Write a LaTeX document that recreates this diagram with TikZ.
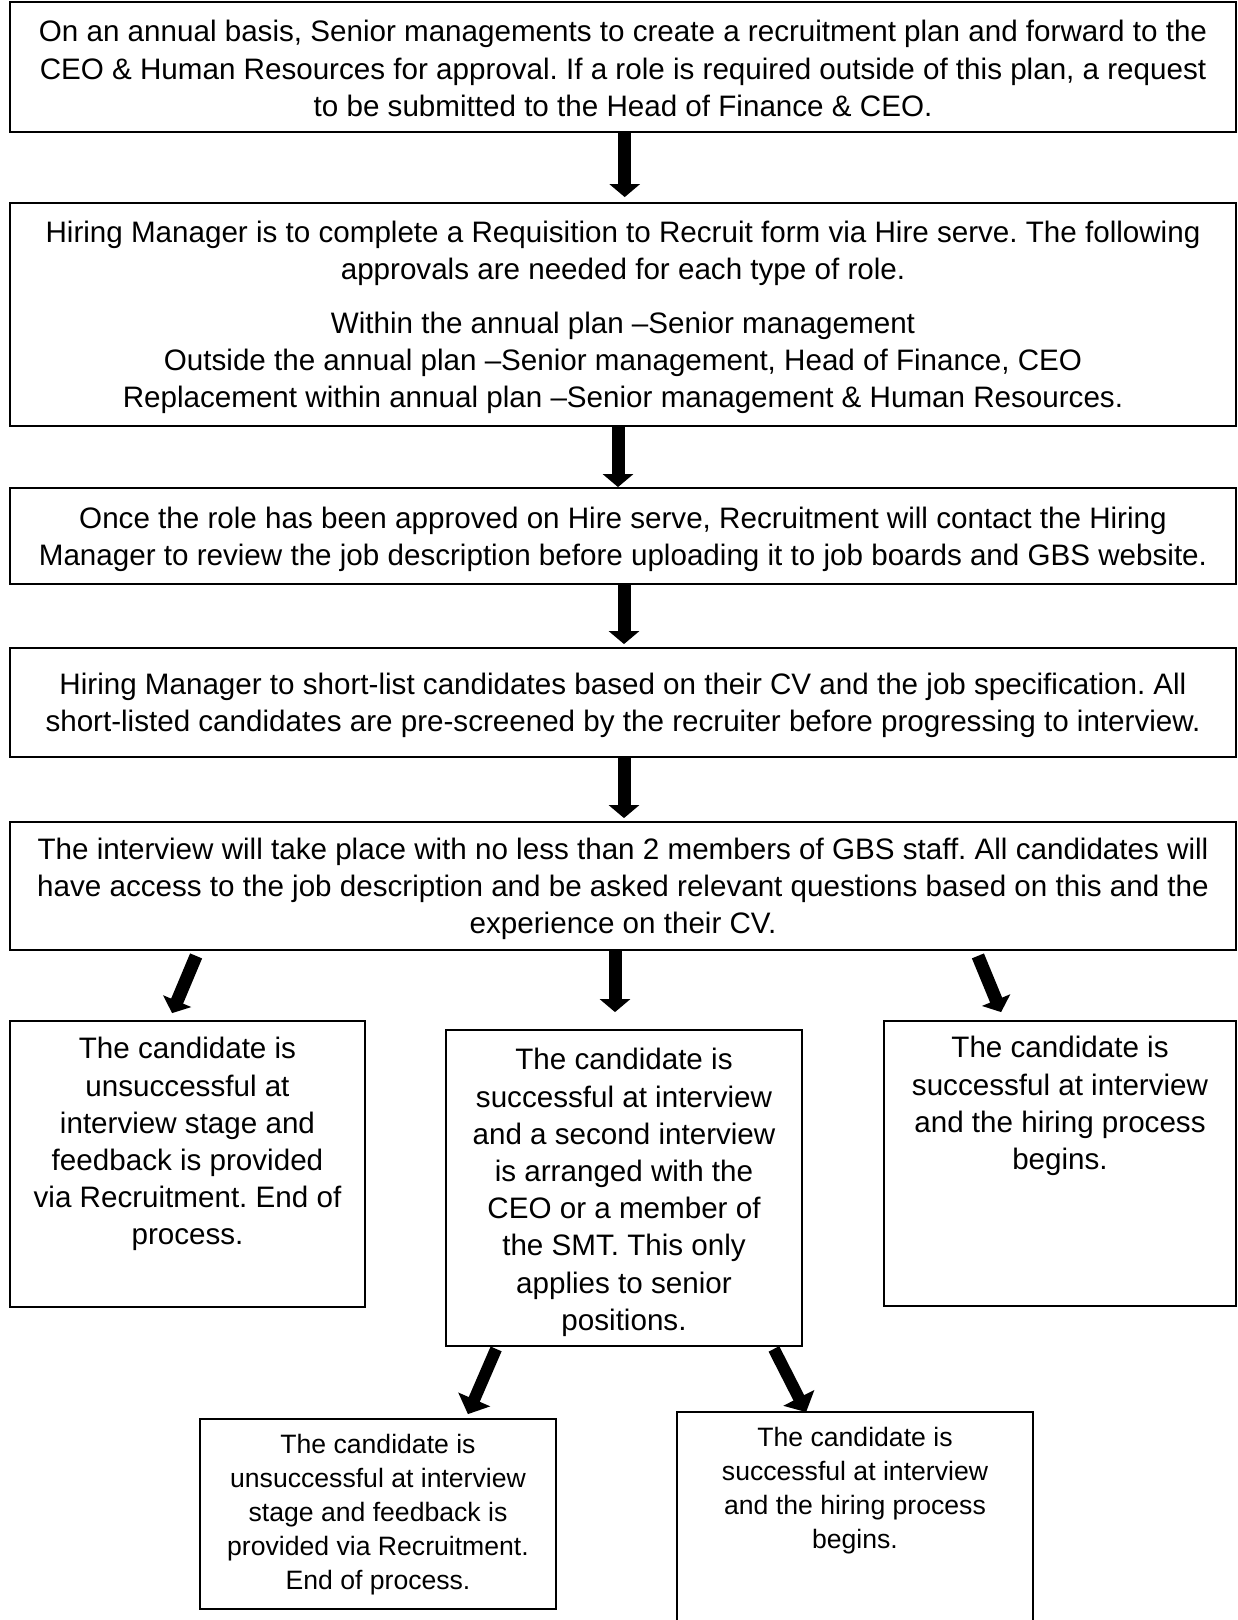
\documentclass[tikz,border=0pt]{standalone}
\usepackage{fontspec}
\setmainfont{Liberation Sans}
\usetikzlibrary{arrows.meta,calc}
\frenchspacing
\begin{document}
\begin{tikzpicture}[x=0.5pt,y=-0.5pt,
  box/.style={draw=black,line width=0.9pt,rectangle,inner sep=0pt},
  maintxt/.style={font=\fontsize{14.8}{18.6}\selectfont,align=center,inner sep=0pt},
  smalltxt/.style={font=\fontsize{13.3}{17}\selectfont,align=center,inner sep=0pt},
  arr/.style={line width=6.5pt,-{Triangle[width=15pt,length=6.5pt]}},
  bigarr/.style={line width=6pt,-{Triangle[width=17pt,length=8pt]}}]
\fill[white] (0,0) rectangle (1237,1620);
\useasboundingbox (0,0) rectangle (1237,1620);

% main column
\node[box,maintxt,text depth=0pt,minimum width=613pt,minimum height=65pt] (b1) at (623,67)
 {\rule{0pt}{1.5pt}\\[-8pt]On an annual basis, Senior managements to create a recruitment plan and forward to the\\
  CEO \& Human Resources for approval. If a role is required outside of this plan, a request\\
  to be submitted to the Head of Finance \& CEO.};
\node[box,maintxt,text depth=0pt,minimum width=613pt,minimum height=111.5pt] (b2) at (623,314.5)
 {Hiring Manager is to complete a Requisition to Recruit form via Hire serve. The following\\
  approvals are needed for each type of role.\\[8.2pt]
  Within the annual plan –Senior management\\
  Outside the annual plan –Senior management, Head of Finance, CEO\\
  Replacement within annual plan –Senior management \& Human Resources.};
\node[box,maintxt,text depth=0pt,minimum width=613pt,minimum height=48pt] (b3) at (623,536)
 {Once the role has been approved on Hire serve, Recruitment will contact the Hiring\\
  Manager to review the job description before uploading it to job boards and GBS website.};
\node[box,maintxt,text depth=0pt,minimum width=613pt,minimum height=54.5pt] (b4) at (623,702.5)
 {Hiring Manager to short-list candidates based on their CV and the job specification. All\\
  short-listed candidates are pre-screened by the recruiter before progressing to interview.};
\node[box,maintxt,text depth=0pt,minimum width=613pt,minimum height=64pt] (b5) at (623,886)
 {The interview will take place with no less than 2 members of GBS staff. All candidates will\\
  have access to the job description and be asked relevant questions based on this and the\\
  experience on their CV.};

% outcome row
\node[box,minimum width=177.5pt,minimum height=143pt] (L) at (187.5,1164) {};
\node[maintxt,anchor=north] (Lt) at ($(L.north)+(0,17)$)
 {The candidate is\\unsuccessful at\\interview stage and\\feedback is provided\\via Recruitment. End of\\process.};
\node[box,minimum width=178pt,minimum height=158pt] (M) at (624,1188) {};
\node[maintxt,anchor=north] (Mt) at ($(M.north)+(0,19)$)
 {The candidate is\\successful at interview\\and a second interview\\is arranged with the\\CEO or a member of\\the SMT. This only\\applies to senior\\positions.};
\node[box,minimum width=176pt,minimum height=142.5pt] (R) at (1060,1163.5) {};
\node[maintxt,anchor=north] (Rt) at ($(R.north)+(0,16)$)
 {The candidate is\\successful at interview\\and the hiring process\\begins.};

% second-interview row
\node[box,minimum width=178pt,minimum height=95pt] (BL) at (378,1514) {};
\node[smalltxt,anchor=north] (BLt) at ($(BL.north)+(0,16)$)
 {The candidate is\\unsuccessful at interview\\stage and feedback is\\provided via Recruitment.\\End of process.};
\node[box,minimum width=178pt,minimum height=109pt] (BR) at (855,1521) {};
\node[smalltxt,anchor=north] (BRt) at ($(BR.north)+(0,16)$)
 {The candidate is\\successful at interview\\and the hiring process\\begins.};

% connectors
\draw[arr] ($(b1.south)+(1.7,0)$) -- ($(b2.north)+(1.7,-5)$);
\draw[arr] ($(b2.south)+(-5,0)$) -- ($(b3.north)+(-5,0)$);
\draw[arr] ($(b3.south)+(1,0)$) -- ($(b4.north)+(1,-3)$);
\draw[arr] ($(b4.south)+(1,0)$) -- ($(b5.north)+(1,-3)$);

\draw[arr] ($(b5.south west)+(187,5)$) -- ($(L.north west)+(163,-7)$);
\draw[arr] ($(b5.south)+(-8,0)$) -- ($(M.north)+(-9,-17)$);
\draw[arr] ($(b5.south east)+(-259,5)$) -- ($(R.north west)+(118,-8)$);

\draw[bigarr] ($(M.south west)+(51,2)$) -- ($(BL.north east)+(-89,-4)$);
\draw[bigarr] ($(M.south east)+(-29,2)$) -- ($(BR.north west)+(130,1)$);
\end{tikzpicture}
\end{document}
